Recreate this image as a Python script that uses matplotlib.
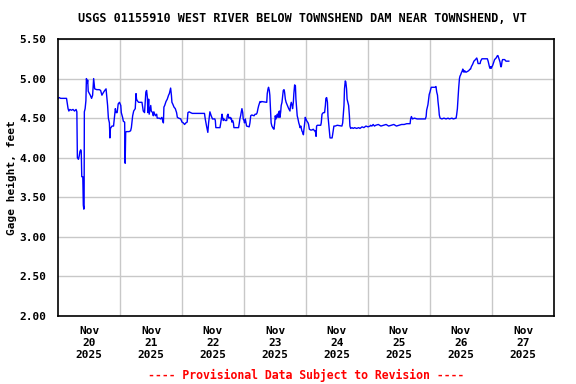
import matplotlib
matplotlib.use("Agg")
import matplotlib.pyplot as plt

# hours since Nov 20 2025 00:00, gage height (feet)
hours = [
    0, 0.5, 1.0, 3.3, 3.6, 3.9, 4.2, 4.6, 5.2, 5.8, 6.4, 7.0, 7.3, 7.5, 7.9, 8.2, 8.5, 8.8, 9.0,
    9.2, 9.6, 9.8, 10.0, 10.1, 10.2, 10.5, 10.8, 11.0, 11.3, 11.5, 11.7, 12.0, 12.5, 13.0, 13.4,
    13.8, 14.0, 14.2, 15.0, 16.0, 16.5, 17.0, 17.5, 18.1, 18.6, 18.8, 19.2, 19.5, 19.9, 20.1,
    20.3, 20.9, 21.5, 21.9, 22.2, 22.5, 22.9, 23.3, 23.8, 24.3, 24.5, 25.0, 25.3, 25.8, 26.0,
    26.2, 26.5, 27.5, 28.1, 28.4, 28.9, 29.3, 29.9,
    30.2, 30.4, 30.7, 31.2, 32.5, 33.0, 33.5, 33.8, 34.0, 34.3, 34.6, 34.8, 35.1, 35.3, 35.9,
    36.1, 36.6, 36.9, 37.1, 37.7, 38.2, 38.4, 39.2, 39.7, 40.2, 40.5, 40.8, 41.0, 41.3, 41.8,
    42.3, 42.8, 43.1, 43.3, 43.6, 43.9, 44.1, 44.4, 44.9, 45.4, 45.9, 46.2, 46.7, 47.5, 48.0,
    48.5, 49.0, 49.5, 50.0, 50.3, 50.8, 51.3, 52.0, 54.0, 56.7, 57.0, 57.5, 58.0, 58.3, 58.8,
    59.3, 59.8, 60.4,
    60.7, 60.9, 61.1, 62.7, 63.0, 63.5, 63.7, 64.0, 64.2, 64.8, 65.3, 65.5, 65.8, 66.1, 66.6,
    66.8, 67.1, 67.3, 67.6, 67.9, 68.1, 69.9, 70.2, 70.4, 70.7, 70.9, 71.2, 71.5, 71.7, 72.0,
    72.2, 72.5, 72.8, 73.0, 74.0, 74.3, 74.6, 75.0, 75.9, 76.3, 76.8, 77.1, 77.4, 77.7, 78.2,
    78.5, 78.8, 80.8, 81.0, 81.3, 81.5, 81.8, 82.0, 82.3, 82.5, 82.8, 83.3, 83.6, 83.9, 84.1,
    84.4, 84.7, 84.9, 85.2, 85.4, 85.7, 85.9, 86.2, 86.4, 86.7, 87.0, 87.2, 87.5, 87.7, 88.0,
    88.3, 88.8, 89.3, 89.8, 90.0, 90.3, 90.6,
    90.8, 91.1, 91.3, 91.6, 91.9, 92.1, 92.4, 92.6, 92.9, 93.2, 93.4, 93.7, 94.0, 94.2, 94.4,
    94.7, 95.0, 95.2, 95.5, 95.7, 96.0, 96.2, 96.8, 97.0, 97.3, 97.8, 98.3, 98.8, 99.3, 99.6,
    99.9, 100.1, 100.4, 101.7, 101.9, 102.2, 102.7, 103.2, 103.5, 103.7, 104.0, 104.3, 104.5,
    104.8, 105.0, 105.3, 106.1, 106.3, 106.6, 106.8, 107.3, 108.1, 109.9, 110.2, 110.4, 110.7,
    110.9, 111.2, 111.4, 111.7, 111.9, 112.2, 112.5, 112.8, 113.0, 113.3, 113.8, 114.3, 114.8,
    115.6, 116.4, 116.9, 117.7, 118.4, 119.2, 120.0, 120.8,
    121.0, 121.5, 122.0, 122.5, 123.0, 124.0, 125.0, 126.0, 127.0, 128.0, 129.0, 130.0, 131.0,
    132.0, 133.0, 134.0, 135.0, 136.3, 136.5, 136.8, 137.2, 138.0, 139.0, 140.0, 141.0, 142.2,
    142.5, 142.7, 143.2, 143.5, 143.7, 144.0, 144.3, 144.5, 145.5, 146.0, 146.3, 146.6, 146.9,
    147.1, 147.4, 147.6, 147.9, 148.6, 149.4, 150.2, 151.0,
    151.5, 152.5, 153.0, 154.1, 154.3, 154.6, 154.8, 155.1, 155.4, 155.6, 155.9, 156.1, 156.4,
    156.7, 156.9, 157.2, 157.4, 157.9, 158.5, 159.0, 159.5, 159.7, 160.0, 160.5, 161.0, 161.6,
    162.1, 162.3, 162.6, 163.4, 163.6, 164.1, 166.2, 166.5, 166.7, 167.0, 167.2, 167.5, 167.7,
    168.0, 168.3, 168.8, 169.0, 169.6, 170.1, 170.3, 170.6, 170.8, 171.1, 171.4, 171.6, 171.9,
    172.1, 172.9, 173.4, 174.0, 174.5,
]
gage = [
    4.75, 4.76, 4.75, 4.75, 4.68, 4.62, 4.59, 4.61, 4.60, 4.61, 4.59, 4.61, 4.58, 4.00, 3.98, 4.02, 4.08, 4.10, 4.08,
    3.76, 3.76, 3.40, 3.35, 3.38, 4.58, 4.62, 4.72, 5.00, 4.94, 4.98, 4.84, 4.82, 4.79, 4.75, 4.79,
    5.00, 4.94, 4.87, 4.86, 4.86, 4.85, 4.79, 4.82, 4.85, 4.87, 4.80, 4.66, 4.50, 4.44, 4.25,
    4.37, 4.40, 4.40, 4.53, 4.62, 4.57, 4.57, 4.68, 4.70, 4.66, 4.57, 4.51, 4.46, 4.45, 3.93,
    4.32, 4.33, 4.33, 4.34, 4.38, 4.53, 4.59, 4.62,
    4.81, 4.74, 4.72, 4.70, 4.70, 4.59, 4.57, 4.74, 4.83, 4.85, 4.76, 4.57, 4.74, 4.55, 4.66,
    4.59, 4.57, 4.53, 4.58, 4.53, 4.55, 4.50, 4.50, 4.49, 4.51, 4.47, 4.44, 4.64, 4.66, 4.71,
    4.74, 4.79, 4.81, 4.84, 4.88, 4.79, 4.70, 4.68, 4.64, 4.62, 4.57, 4.51, 4.50, 4.49, 4.45,
    4.44, 4.42, 4.44, 4.45, 4.57, 4.58, 4.57, 4.56, 4.56, 4.56, 4.49, 4.40, 4.32, 4.44, 4.58,
    4.53, 4.49, 4.49,
    4.49, 4.47, 4.38, 4.38, 4.44, 4.55, 4.51, 4.47, 4.49, 4.47, 4.47, 4.53, 4.55, 4.50, 4.51,
    4.49, 4.50, 4.45, 4.47, 4.44, 4.38, 4.38, 4.44, 4.49, 4.53, 4.57, 4.62, 4.57, 4.49, 4.47,
    4.44, 4.49, 4.44, 4.40, 4.39, 4.44, 4.53, 4.54, 4.53, 4.55, 4.55, 4.57, 4.62, 4.66, 4.71,
    4.70, 4.71, 4.70, 4.81, 4.87, 4.89, 4.85, 4.79, 4.57, 4.44, 4.40, 4.37, 4.36, 4.44, 4.53,
    4.49, 4.53, 4.55, 4.51, 4.57, 4.59, 4.51, 4.58, 4.66, 4.70, 4.79, 4.85, 4.86, 4.83, 4.74,
    4.70, 4.66, 4.62, 4.59, 4.66, 4.70, 4.66,
    4.62, 4.70, 4.81, 4.92, 4.91, 4.74, 4.62, 4.53, 4.49, 4.44, 4.42, 4.38, 4.40, 4.37, 4.34,
    4.32, 4.29, 4.36, 4.44, 4.51, 4.49, 4.47, 4.44, 4.42, 4.36, 4.35, 4.35, 4.36, 4.34, 4.34,
    4.27, 4.40, 4.41, 4.41, 4.44, 4.55, 4.57, 4.57, 4.66, 4.75, 4.76, 4.70, 4.53,
    4.42, 4.36, 4.25, 4.25, 4.29, 4.36, 4.40, 4.40, 4.41, 4.40, 4.44, 4.53, 4.66,
    4.87, 4.97, 4.96, 4.87, 4.74, 4.70, 4.66, 4.53, 4.40, 4.37, 4.38, 4.37, 4.38,
    4.37, 4.38, 4.37, 4.39, 4.38, 4.40, 4.39, 4.40,
    4.41, 4.40, 4.42, 4.40, 4.41, 4.42, 4.40, 4.41, 4.42, 4.40, 4.41, 4.42, 4.40,
    4.41, 4.42, 4.42, 4.43, 4.43, 4.49, 4.52, 4.49, 4.50, 4.49, 4.49, 4.49, 4.49,
    4.52, 4.60, 4.67, 4.75, 4.80, 4.83, 4.87, 4.89, 4.89, 4.89, 4.90, 4.83, 4.79,
    4.71, 4.62, 4.54, 4.50, 4.49, 4.50, 4.49, 4.50,
    4.49, 4.50, 4.49, 4.50, 4.54, 4.62, 4.73, 4.88, 5.00, 5.03, 5.05, 5.07, 5.09,
    5.12, 5.09, 5.08, 5.10, 5.08, 5.09, 5.10, 5.12, 5.12, 5.15, 5.18, 5.22, 5.24,
    5.26, 5.24, 5.19, 5.19, 5.22, 5.25, 5.25, 5.22, 5.19, 5.15, 5.13, 5.15, 5.13,
    5.15, 5.17, 5.22, 5.24, 5.26, 5.29, 5.29, 5.26, 5.24, 5.21, 5.15, 5.15, 5.22,
    5.24, 5.24, 5.22, 5.22, 5.22,
]

day_labels = ["Nov\n20\n2025", "Nov\n21\n2025", "Nov\n22\n2025", "Nov\n23\n2025",
              "Nov\n24\n2025", "Nov\n25\n2025", "Nov\n26\n2025", "Nov\n27\n2025"]
y_ticks = [2.00, 2.50, 3.00, 3.50, 4.00, 4.50, 5.00, 5.50]

mono = "DejaVu Sans Mono"

fig = plt.figure(figsize=(5.76, 3.84), dpi=100)
ax = fig.add_axes([58/576, 1-316/384, 496/576, 277/384])

ax.plot(hours, gage, color="#0000ff", lw=1.0)

ax.set_xlim(0, 192)
ax.set_ylim(2.0, 5.5)

# gridlines at midnight, labels at noon
ax.set_xticks([24*i for i in range(1, 8)])
ax.set_xticks([12 + 24*i for i in range(8)], minor=True)
ax.set_xticklabels([], minor=False)
ax.set_xticklabels(day_labels, minor=True, fontfamily=mono, fontweight="bold",
                   fontsize=8, linespacing=1.25)
ax.tick_params(axis="x", which="both", length=0)
ax.tick_params(axis="x", which="minor", pad=7)

ax.set_yticks(y_ticks)
ax.set_yticklabels(["%.2f" % v for v in y_ticks], fontfamily=mono,
                   fontweight="bold", fontsize=8)
ax.tick_params(axis="y", length=0, pad=8.5)

ax.grid(True, which="major", color="#c8c8c8", lw=1.0)
ax.set_axisbelow(True)
for s in ax.spines.values():
    s.set_linewidth(1.2)
    s.set_color("black")

ax.set_ylabel("Gage height, feet", fontfamily=mono, fontweight="bold", fontsize=8)
ax.yaxis.set_label_coords(-41/496, 0.5)

fig.text(302/576, 1-19/384, "USGS 01155910 WEST RIVER BELOW TOWNSHEND DAM NEAR TOWNSHEND, VT",
         ha="center", va="center", fontfamily=mono, fontweight="bold", fontsize=8.45)
fig.text(306/576, 1-375/384, "---- Provisional Data Subject to Revision ----",
         ha="center", va="center", fontfamily=mono, fontweight="bold",
         fontsize=8.3, color="#ff0000")

fig.savefig("out.png", dpi=100)
